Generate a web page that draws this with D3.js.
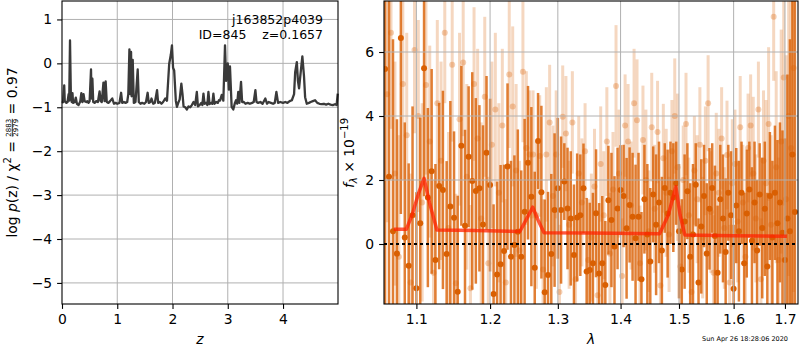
<!DOCTYPE html>
<html>
<head>
<meta charset="utf-8">
<script src="https://cdn.jsdelivr.net/npm/d3@7"></script>
<style>
  body { margin: 0; background: #fff; }
  svg { font-family: "DejaVu Sans", sans-serif; }
</style>
</head>
<body>
<svg width="800" height="350"></svg>
<script>
'use strict'

// p(z) curve
const zGrid = [
  0.00, 0.02, 0.04, 0.05, 0.08, 0.10, 0.12, 0.13, 0.145, 0.16,
  0.175, 0.19, 0.20, 0.23, 0.25, 0.27, 0.30, 0.33, 0.35, 0.37,
  0.39, 0.41, 0.44, 0.46, 0.48, 0.50, 0.525, 0.535, 0.55, 0.565,
  0.59, 0.62, 0.65, 0.68, 0.70, 0.72, 0.75, 0.77, 0.79, 0.81,
  0.84, 0.87, 0.91, 0.94, 0.97, 1.00, 1.04, 1.07, 1.09, 1.12,
  1.15, 1.18, 1.20, 1.22, 1.235, 1.25, 1.26, 1.28, 1.30, 1.33,
  1.37, 1.39, 1.42, 1.45, 1.49, 1.52, 1.55, 1.57, 1.60, 1.62,
  1.65, 1.68, 1.72, 1.74, 1.77, 1.80, 1.83, 1.87, 1.90, 1.94,
  1.97, 1.99, 2.01, 2.03, 2.06, 2.08, 2.11, 2.13, 2.16, 2.18,
  2.20, 2.23, 2.26, 2.29, 2.32, 2.35, 2.38, 2.41, 2.44, 2.46,
  2.49, 2.52, 2.54, 2.56, 2.58, 2.61, 2.63, 2.65, 2.67, 2.70,
  2.72, 2.74, 2.76, 2.79, 2.82, 2.84, 2.86, 2.89, 2.92, 2.95,
  2.97, 3.00, 3.02, 3.04, 3.07, 3.10, 3.13, 3.15, 3.17, 3.19,
  3.21, 3.24, 3.26, 3.29, 3.32, 3.36, 3.40, 3.44, 3.47, 3.50,
  3.52, 3.55, 3.59, 3.63, 3.68, 3.71, 3.74, 3.78, 3.82, 3.85,
  3.88, 3.91, 3.95, 4.00, 4.04, 4.08, 4.12, 4.16, 4.20, 4.22,
  4.25, 4.27, 4.29, 4.32, 4.35, 4.38, 4.40, 4.43, 4.47, 4.50,
  4.54, 4.58, 4.62, 4.66, 4.70, 4.74, 4.78, 4.82, 4.86, 4.90,
  4.94, 4.97, 4.99
];
const logPz = [
  -0.90, -0.88, -0.50, -0.86, -0.90, -0.88, -0.70, -0.85, 0.52, -0.70,
  -0.88, -0.68, -0.90, -0.88, -0.78, -0.92, -0.95, -0.87, -0.68, -0.88,
  -0.70, -0.86, -0.88, -0.86, -0.90, -0.86, -0.14, -0.80, -0.35, -0.88,
  -0.90, -0.86, -0.88, -0.64, -0.86, -0.88, -0.44, -0.86, -0.41, -0.88,
  -0.90, -0.86, -0.80, -0.92, -0.90, -0.92, -0.90, -0.67, -0.90, -0.88,
  -0.90, -0.88, -0.70, 0.32, -0.70, 0.26, -0.75, 0.08, -0.90, -0.88,
  -0.14, -0.88, -0.92, -0.90, -0.92, -0.88, -0.67, -0.90, -0.88, -0.80,
  -0.92, -0.90, -0.61, -0.90, -0.88, -0.92, -0.88, -0.80, -0.85, -0.01,
  0.20, 0.41, -0.10, -0.16, -0.85, -0.99, -0.88, -0.82, -0.46, -0.69,
  -0.98, -1.00, -1.05, -0.98, -1.00, -0.95, -0.88, -0.95, -0.65, -0.98,
  -0.95, -0.90, -0.95, -0.69, -0.92, -0.90, -0.95, -0.65, -0.93, -0.90,
  -0.92, -0.69, -0.92, -0.88, -0.90, -0.84, -0.85, -0.72, -0.85, 0.41,
  -0.40, 0.00, -0.60, -0.07, -0.99, -1.05, -0.90, -0.84, -0.92, -0.65,
  -0.90, -0.42, -0.88, -0.88, -0.92, -0.90, -0.92, -0.90, -0.88, -0.61,
  -0.88, -0.90, -0.88, -0.92, -0.80, -0.92, -0.88, -0.90, -0.92, -0.90,
  -0.65, -0.90, -0.88, -0.90, -0.88, -0.90, -0.86, -0.84, -0.70, -0.20,
  0.03, -0.40, -0.57, -0.20, 0.16, -0.30, -0.77, -0.92, -0.90, -0.88,
  -0.86, -0.84, -0.90, -0.92, -0.93, -0.92, -0.94, -0.92, -0.94, -0.95,
  -0.93, -0.95, -0.69
];

// spectrum, dark set
const waveA = [
  1.060, 1.065, 1.070, 1.075, 1.080, 1.085, 1.090, 1.095, 1.100, 1.105,
  1.110, 1.115, 1.120, 1.125, 1.130, 1.135, 1.140, 1.145, 1.150, 1.155,
  1.160, 1.165, 1.170, 1.175, 1.180, 1.185, 1.190, 1.195, 1.200, 1.205,
  1.210, 1.215, 1.220, 1.225, 1.230, 1.235, 1.240, 1.245, 1.250, 1.255,
  1.260, 1.265, 1.270, 1.275, 1.280, 1.285, 1.290, 1.295, 1.300, 1.305,
  1.310, 1.315, 1.320, 1.325, 1.330, 1.335, 1.340, 1.345, 1.350, 1.355,
  1.360, 1.365, 1.370, 1.375, 1.380, 1.385, 1.390, 1.395, 1.400, 1.405,
  1.410, 1.415, 1.420, 1.425, 1.430, 1.435, 1.440, 1.445, 1.450, 1.455,
  1.460, 1.465, 1.470, 1.475, 1.480, 1.485, 1.490, 1.495, 1.500, 1.505,
  1.510, 1.515, 1.520, 1.525, 1.530, 1.535, 1.540, 1.545, 1.550, 1.555,
  1.560, 1.565, 1.570, 1.575, 1.580, 1.585, 1.590, 1.595, 1.600, 1.605,
  1.610, 1.615, 1.620, 1.625, 1.630, 1.635, 1.640, 1.645, 1.650, 1.655,
  1.660, 1.665, 1.670, 1.675, 1.680, 1.685, 1.690, 1.695, 1.700, 1.705,
  1.710, 1.715, 1.720
];
const fluxA = [
  5.47, 2.1, 0.4, -0.3, 6.44, 0.2, -0.68, 0.9, -1.38, 0.65,
  5.49, 1.45, 2.27, -0.5, 1.81, 1.69, -0.31, 1.17, 0.82, -1.49,
  3.07, 0.57, 2.73, 1.97, 1.66, 1.74, 0.61, 2.85, 1.84, -1.56,
  -0.95, -0.63, -0.22, 2.42, -0.40, -0.03, 0.38, -0.4, 1.01, 2.54,
  1.48, -0.74, 3.22, 1.62, -1.51, -0.97, -0.31, 1.06, 1.74, 1.06,
  1.95, 1.11, 0.8, -0.34, 0.83, 0.9, 1.74, -0.86, -0.81, -0.6,
  0.96, -0.92, -0.6, -1.28, 1.37, 0.75, -0.08, 1.11, 1.69, 1.5,
  0.49, 1.22, 0.85, 0.18, 0.85, -1.1, 1.4, 0.3, -0.55, 1.55,
  0.6, 1.3, -0.2, 1.75, 0.95, 1.6, 1.45, 1.9, 0.4, -0.8,
  0.7, 1.65, -0.4, 0.3, 1.85, -1.2, 0.55, 1.5, -0.3, 1.1,
  1.75, 0.25, -0.9, 1.4, 0.8, -0.25, 1.6, 0.9, -1.4, 1.2,
  0.4, 1.6, -0.6, 0.95, 1.7, 0.1, 1.3, -0.2, 1.55, 0.5,
  1.1, -0.7, 1.5, 0.2, 1.6, 0.65, 1.3, 0.35, -0.5, 0.8,
  0.4, 2.8, 1.0
];
const errA = [
  9.0, 7.5, 6.0, 4.2, 5.5, 3.6, 3.2, 3.4, 3.0, 3.3,
  4.0, 2.8, 3.2, 3.0, 2.6, 3.1, 2.9, 3.3, 2.7, 3.0,
  2.5, 3.0, 2.2, 3.4, 2.9, 2.6, 3.1, 2.4, 2.7, 2.8,
  2.9, 3.1, 2.7, 2.6, 3.0, 2.8, 3.2, 2.7, 2.9, 2.4,
  2.8, 3.0, 1.5, 2.7, 2.9, 2.6, 2.5, 2.4, 2.2, 2.3,
  1.2, 1.9, 2.1, 2.2, 2.0, 1.9, 1.4, 2.3, 2.1, 2.2,
  2.0, 2.2, 2.1, 2.0, 1.7, 2.1, 2.2, 1.9, 1.4, 1.6,
  2.2, 1.8, 2.0, 2.3, 2.0, 2.1, 1.7, 2.2, 2.3, 1.5,
  2.2, 1.9, 2.3, 1.4, 2.0, 1.6, 1.7, 1.3, 2.1, 2.2,
  2.1, 1.5, 2.3, 2.2, 1.3, 2.0, 2.1, 1.6, 2.2, 1.9,
  1.4, 2.2, 2.1, 1.7, 2.0, 2.3, 1.5, 2.0, 2.0, 1.8,
  2.2, 1.6, 2.2, 2.0, 1.5, 2.3, 1.9, 2.2, 1.6, 2.2,
  2.1, 2.3, 2.0, 2.4, 2.1, 2.6, 2.5, 3.2, 3.8, 4.5,
  6.0, 8.0, 9.5
];

// spectrum, faint set
const waveB = [
  1.0625, 1.0675, 1.0725, 1.0775, 1.0825, 1.0875, 1.0925, 1.0975, 1.1025, 1.1075,
  1.1125, 1.1175, 1.1225, 1.1275, 1.1325, 1.1375, 1.1425, 1.1475, 1.1525, 1.1575,
  1.1625, 1.1675, 1.1725, 1.1775, 1.1825, 1.1875, 1.1925, 1.1975, 1.2025, 1.2075,
  1.2125, 1.2175, 1.2225, 1.2275, 1.2325, 1.2375, 1.2425, 1.2475, 1.2525, 1.2575,
  1.2625, 1.2675, 1.2725, 1.2775, 1.2825, 1.2875, 1.2925, 1.2975, 1.3025, 1.3075,
  1.3125, 1.3175, 1.3225, 1.3275, 1.3325, 1.3375, 1.3425, 1.3475, 1.3525, 1.3575,
  1.3625, 1.3675, 1.3725, 1.3775, 1.3825, 1.3875, 1.3925, 1.3975, 1.4025, 1.4075,
  1.4125, 1.4175, 1.4225, 1.4275, 1.4325, 1.4375, 1.4425, 1.4475, 1.4525, 1.4575,
  1.4625, 1.4675, 1.4725, 1.4775, 1.4825, 1.4875, 1.4925, 1.4975, 1.5025, 1.5075,
  1.5125, 1.5175, 1.5225, 1.5275, 1.5325, 1.5375, 1.5425, 1.5475, 1.5525, 1.5575,
  1.5625, 1.5675, 1.5725, 1.5775, 1.5825, 1.5875, 1.5925, 1.5975, 1.6025, 1.6075,
  1.6125, 1.6175, 1.6225, 1.6275, 1.6325, 1.6375, 1.6425, 1.6475, 1.6525, 1.6575,
  1.6625, 1.6675, 1.6725, 1.6775, 1.6825, 1.6875, 1.6925, 1.6975, 1.7025, 1.7075,
  1.7125, 1.7175
];
const fluxB = [
  4.68, 6.6, 2.2, -0.4, 5.0, 3.4, -1.2, 6.06, 4.0, 1.3,
  4.97, 3.2, -0.9, 4.4, 2.6, 6.6, 0.5, 5.6, -1.23, 3.9,
  5.67, 2.1, -1.38, 5.0, 3.3, 0.8, 4.6, -0.6, 3.1, 4.2,
  1.6, 3.7, -1.2, 5.3, 4.3, 2.3, -0.2, 5.38, 3.0, 2.8,
  2.8, 0.9, 2.75, -0.8, 2.8, 3.8, 1.5, 2.8, -1.5, 3.98,
  3.45, 0.6, 3.8, -1.1, 2.2, 1.3, 2.9, -0.5, 0.2, 1.8,
  -1.6, 2.5, 0.9, 3.2, -0.3, 1.7, 4.94, 2.2, -1.0, 3.7,
  3.2, 1.2, 4.4, 3.87, -0.6, 3.25, 2.0, 0.4, 3.65, 1.1,
  3.5, -1.3, 2.68, 1.6, 0.3, 2.9, 4.0, 2.4, -0.7, 2.0,
  3.75, 0.9, -1.5, 2.3, 1.4, 3.1, 0.2, 2.6, 4.4, 1.0,
  -0.9, 2.2, 1.6, 3.3, 0.5, 2.78, -1.2, 1.9, 2.5, 0.7,
  3.65, 1.3, -0.4, 3.0, 3.7, 2.2, 0.8, 4.2, -1.1, 2.6,
  1.9, 3.75, 0.6, 7.1, 2.4, -0.5, 3.2, 5.2, 1.4, 4.0,
  3.0, 5.5
];
const errB = [
  4.0, 3.0, 3.5, 3.8, 3.0, 3.2, 3.4, 2.6, 3.0, 3.1,
  2.8, 3.0, 2.9, 2.6, 3.1, 2.2, 3.0, 2.4, 2.8, 2.7,
  2.3, 2.9, 2.6, 2.4, 2.8, 3.0, 2.5, 2.7, 2.6, 2.4,
  2.8, 2.4, 2.6, 2.3, 2.5, 2.7, 2.8, 2.2, 2.4, 2.0,
  2.0, 2.3, 1.9, 2.2, 2.1, 1.8, 2.2, 2.0, 2.1, 1.6,
  1.8, 2.0, 1.6, 1.9, 1.8, 2.0, 1.5, 1.9, 2.0, 1.8,
  1.9, 1.8, 2.0, 1.7, 1.9, 1.8, 1.9, 2.0, 1.8, 1.6,
  1.8, 2.0, 1.7, 1.9, 1.8, 1.7, 2.2, 1.9, 1.7, 2.0,
  1.6, 1.9, 1.7, 2.0, 1.8, 1.6, 1.8, 2.3, 1.9, 1.7,
  1.6, 1.8, 1.9, 1.7, 2.0, 1.8, 1.9, 1.7, 1.5, 1.9,
  1.8, 1.9, 2.0, 1.6, 1.9, 1.7, 1.8, 2.0, 1.7, 1.9,
  1.6, 1.8, 2.0, 1.7, 1.6, 2.4, 2.0, 1.5, 1.9, 2.2,
  2.6, 2.4, 2.8, 2.0, 3.0, 3.2, 3.5, 4.0, 4.5, 5.0,
  6.0, 7.0
];

// best-fit model
const modelWave = [1.071, 1.087, 1.095, 1.103, 1.110, 1.117, 1.127, 1.18, 1.243, 1.252,
  1.262, 1.270, 1.279, 1.35, 1.466, 1.481, 1.4945, 1.502, 1.5105, 1.60, 1.704];
const modelFlux = [0.46, 0.46, 0.95, 1.6, 2.05, 1.3, 0.44, 0.42, 0.39, 0.75,
  1.15, 0.75, 0.35, 0.34, 0.32, 0.9, 1.79, 0.9, 0.28, 0.26, 0.24];

const pzTicksX = [0, 1, 2, 3, 4];
const pzTicksY = [1, 0, -1, -2, -3, -4, -5];
const specTicksX = [1.1, 1.2, 1.3, 1.4, 1.5, 1.6, 1.7];
const specTicksY = [0, 2, 4, 6];

const FONT = 13.9;
const TICK = 4.9;
const ORANGE = '#d95f02';
const GRID = '#b0b0b0';

const pz = { left: 62, right: 338, top: 1, bottom: 304 };
const sp = { left: 384, right: 798, top: 1, bottom: 304 };

const svg = d3.select('svg');

const xZ = d3.scaleLinear().domain([0, 4.995]).range([pz.left, pz.right]);
const yZ = d3.scaleLinear().domain([-5.48, 1.42]).range([pz.bottom, pz.top]);
const xW = d3.scaleLog().domain([1.0587, 1.7264]).range([sp.left, sp.right]);
const yF = d3.scaleLinear().domain([-1.875, 7.594]).range([sp.bottom, sp.top]);

function drawGrid(g, xs, ys, xScale, yScale, box) {
  g.selectAll(null).data(xs).join('line')
    .attr('x1', d => xScale(d)).attr('x2', d => xScale(d))
    .attr('y1', box.top).attr('y2', box.bottom)
    .attr('stroke', GRID).attr('stroke-width', 1);
  g.selectAll(null).data(ys).join('line')
    .attr('x1', box.left).attr('x2', box.right)
    .attr('y1', d => yScale(d)).attr('y2', d => yScale(d))
    .attr('stroke', GRID).attr('stroke-width', 1);
}

function styleAxis(g) {
  g.select('.domain').remove();
  g.attr('font-family', '"DejaVu Sans", sans-serif').attr('font-size', FONT);
  g.selectAll('line').attr('stroke', '#000').attr('stroke-width', 1.1);
  g.selectAll('text').attr('fill', '#000');
}

function frame(box) {
  svg.append('rect')
    .attr('x', box.left).attr('y', box.top)
    .attr('width', box.right - box.left).attr('height', box.bottom - box.top)
    .attr('fill', 'none').attr('stroke', '#000').attr('stroke-width', 1.1);
}

// ---- left panel: p(z)
const gz = svg.append('g');
drawGrid(gz, pzTicksX.slice(1), pzTicksY, xZ, yZ, pz);

const pzLine = d3.line().x(d => xZ(d[0])).y(d => yZ(d[1]));
gz.append('path')
  .datum(d3.zip(zGrid, logPz))
  .attr('d', pzLine)
  .attr('fill', 'none')
  .attr('stroke', '#3a3a3a')
  .attr('stroke-width', 2.3)
  .attr('stroke-linejoin', 'round');

svg.append('g').attr('transform', `translate(0,${pz.bottom})`)
  .call(d3.axisBottom(xZ).tickValues(pzTicksX).tickFormat(d3.format('d'))
    .tickSize(TICK).tickPadding(4.9))
  .call(styleAxis);
svg.append('g').attr('transform', `translate(${pz.left},0)`)
  .call(d3.axisLeft(yZ).tickValues(pzTicksY).tickFormat(d3.format('d'))
    .tickSize(TICK).tickPadding(4.9))
  .call(styleAxis);
frame(pz);

svg.append('text').attr('x', 323).attr('y', 24)
  .attr('text-anchor', 'end').attr('font-size', 12.5)
  .text('j163852p4039');
svg.append('text').attr('x', 323).attr('y', 38.5)
  .attr('text-anchor', 'end').attr('font-size', 12.5)
  .style('white-space', 'pre')
  .text('ID=845    z=0.1657');

svg.append('text').attr('x', (pz.left + pz.right) / 2).attr('y', 344)
  .attr('text-anchor', 'middle').attr('font-size', FONT).attr('font-style', 'italic')
  .text('z');

// y label with the chi2 fraction
const yLab = svg.append('g').attr('transform', 'translate(16.5,152.5) rotate(-90)');
const yText = yLab.append('text').attr('font-size', FONT).attr('text-anchor', 'middle');
yText.append('tspan').text('log ');
yText.append('tspan').attr('font-style', 'italic').text('p');
yText.append('tspan').text('(z) / χ');
yText.append('tspan').attr('font-size', 10).attr('dy', -6).text('2');
yText.append('tspan').attr('dy', 6).style('white-space', 'pre').text(' = ');
yText.append('tspan').attr('font-size', 7).attr('dy', -5.2).text('2883');
yText.append('tspan').attr('font-size', 7).attr('dx', -4 * 0.636 * 7).attr('dy', 6.8).text('2979');
yText.append('tspan').attr('dy', -1.6).style('white-space', 'pre').text(' = 0.97');
{
  const node = yText.node();
  const a = node.getExtentOfChar(16);
  const b = node.getExtentOfChar(19);
  yLab.append('line')
    .attr('x1', a.x).attr('x2', b.x + b.width)
    .attr('y1', -4.2).attr('y2', -4.2)
    .attr('stroke', '#000').attr('stroke-width', 0.8);
}

// ---- right panel: spectrum
svg.append('clipPath').attr('id', 'spclip')
  .append('rect')
  .attr('x', sp.left).attr('y', sp.top)
  .attr('width', sp.right - sp.left).attr('height', sp.bottom - sp.top);

const gs = svg.append('g').attr('clip-path', 'url(#spclip)');

function drawSet(wave, flux, err, barOpacity, dotOpacity, barWidth) {
  const pts = d3.zip(wave, flux, err);
  const g = gs.append('g');
  g.selectAll('line').data(pts).join('line')
    .attr('x1', d => xW(d[0])).attr('x2', d => xW(d[0]))
    .attr('y1', d => yF(d[1] - d[2])).attr('y2', d => yF(d[1] + d[2]))
    .attr('stroke', ORANGE).attr('stroke-opacity', barOpacity)
    .attr('stroke-width', barWidth);
  g.selectAll('circle').data(pts).join('circle')
    .attr('cx', d => xW(d[0])).attr('cy', d => yF(d[1]))
    .attr('r', 3)
    .attr('fill', ORANGE).attr('fill-opacity', dotOpacity);
}

drawSet(waveB, fluxB, errB, 0.25, 0.3, 3);
drawSet(waveA, fluxA, errA, 0.8, 1, 2.5);

drawGrid(gs, specTicksX, specTicksY.slice(1), xW, yF, sp);

gs.append('line')
  .attr('x1', sp.left).attr('x2', sp.right)
  .attr('y1', yF(0)).attr('y2', yF(0))
  .attr('stroke', '#000').attr('stroke-width', 2)
  .attr('stroke-dasharray', '3,3');

gs.append('path')
  .datum(d3.zip(modelWave, modelFlux))
  .attr('d', d3.line().x(d => xW(d[0])).y(d => yF(d[1])))
  .attr('fill', 'none')
  .attr('stroke', '#ff2200').attr('stroke-opacity', 0.75)
  .attr('stroke-width', 3.5)
  .attr('stroke-linejoin', 'round');

svg.append('g').attr('transform', `translate(0,${sp.bottom})`)
  .call(d3.axisBottom(xW).tickValues(specTicksX).tickFormat(d3.format('.1f'))
    .tickSize(TICK).tickPadding(4.9))
  .call(styleAxis);
svg.append('g').attr('transform', `translate(${sp.left},0)`)
  .call(d3.axisLeft(yF).tickValues(specTicksY).tickFormat(d3.format('d'))
    .tickSize(TICK).tickPadding(4.9))
  .call(styleAxis);
frame(sp);

svg.append('text').attr('x', (sp.left + sp.right) / 2).attr('y', 344)
  .attr('text-anchor', 'middle').attr('font-size', FONT).attr('font-style', 'italic')
  .text('λ');

const fLab = svg.append('g').attr('transform', 'translate(354,153) rotate(-90)');
const fText = fLab.append('text').attr('font-size', FONT).attr('text-anchor', 'middle');
fText.append('tspan').attr('font-style', 'italic').text('f');
fText.append('tspan').attr('font-size', 10).attr('font-style', 'italic').attr('dy', 3).text('λ');
fText.append('tspan').attr('dy', -3).style('white-space', 'pre').text(' × 10');
fText.append('tspan').attr('font-size', 10).attr('dy', -6).text('−19');

svg.append('text').attr('x', 788).attr('y', 341)
  .attr('text-anchor', 'end').attr('font-size', 6.5)
  .text('Sun Apr 26 18:28:06 2020');
</script>
</body>
</html>
